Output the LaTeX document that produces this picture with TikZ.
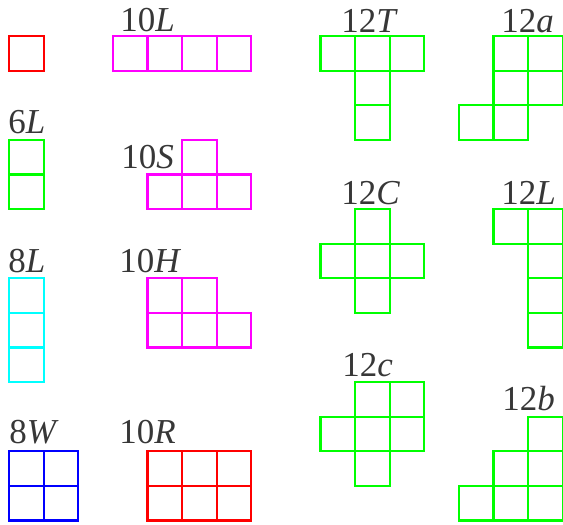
\documentclass[tikz,border=0pt]{standalone}
\usepackage{fontspec}
\setmainfont{Liberation Serif}
\definecolor{pred}{RGB}{255,0,0}
\definecolor{pmag}{RGB}{255,0,255}
\definecolor{pgrn}{RGB}{0,255,0}
\definecolor{pcyn}{RGB}{0,255,255}
\definecolor{pblu}{RGB}{0,0,255}
\definecolor{ltxt}{RGB}{55,55,55}
\newcommand{\polyo}[2]{\foreach \a/\b in {#2} {\draw[#1] (\a,\b) rectangle ++(1,1);}}
\begin{document}
\begin{tikzpicture}[x=0.5pt,y=-0.5pt,
  lbl/.style={anchor=base west, inner sep=0pt, font=\fontsize{17.5}{17.5}\selectfont, text=ltxt}]
\useasboundingbox (0,0) rectangle (563,525);
\begin{scope}[shift={(9,36)}, x=17.3pt, y=-17.3pt, line width=1.1pt]
\polyo{pred}{0/0}
\polyo{pmag}{3/0,4/0,5/0,6/0}
\polyo{pgrn}{0/3,0/4}
\polyo{pmag}{5/3,4/4,5/4,6/4}
\polyo{pcyn}{0/7,0/8,0/9}
\polyo{pmag}{4/7,5/7,4/8,5/8,6/8}
\polyo{pblu}{0/12,1/12,0/13,1/13}
\polyo{pred}{4/12,5/12,6/12,4/13,5/13,6/13}
\polyo{pgrn}{9/0,10/0,11/0,10/1,10/2}
\polyo{pgrn}{14/0,15/0,14/1,15/1,13/2,14/2}
\polyo{pgrn}{10/5,9/6,10/6,11/6,10/7}
\polyo{pgrn}{14/5,15/5,15/6,15/7,15/8}
\polyo{pgrn}{10/10,11/10,9/11,10/11,11/11,10/12}
\polyo{pgrn}{15/11,14/12,15/12,13/13,14/13,15/13}
\end{scope}
\node[lbl] (l10L) at (120,31) {10\textit{L}};
\node[lbl] (l6L) at (8,133) {6\textit{L}};
\node[lbl] (l10S) at (121,168) {10\textit{S}};
\node[lbl] (l8L) at (8,272) {8\textit{L}};
\node[lbl] (l10H) at (119,272) {10\textit{H}};
\node[lbl] (l8W) at (9,443) {8\textit{W}};
\node[lbl] (l10R) at (119,443) {10\textit{R}};
\node[lbl] (l12T) at (341,32) {12\textit{T}};
\node[lbl] (l12a) at (501,32) {12\textit{a}};
\node[lbl] (l12C) at (341,204) {12\textit{C}};
\node[lbl] (l12L) at (501,204) {12\textit{L}};
\node[lbl] (l12c) at (342,376) {12\textit{c}};
\node[lbl] (l12b) at (502,410) {12\textit{b}};
\end{tikzpicture}
\end{document}
